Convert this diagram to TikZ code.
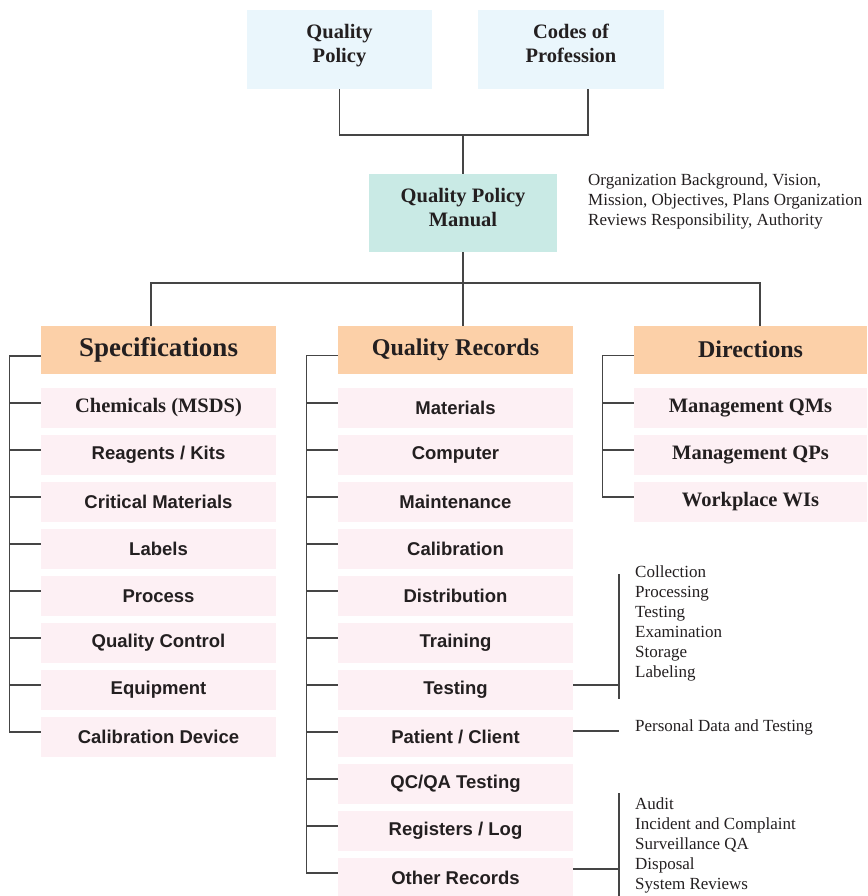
\documentclass[tikz,border=0pt]{standalone}
\usepackage{fontspec}
\setmainfont{Liberation Serif}
\newfontfamily\arialb{Liberation Sans}
\definecolor{topc}{HTML}{EAF6FC}
\definecolor{qpmc}{HTML}{C9EAE5}
\definecolor{hdrc}{HTML}{FCD0A8}
\definecolor{itemc}{HTML}{FDF0F4}
\definecolor{txtc}{HTML}{231F20}
\definecolor{lnc}{HTML}{454545}
\newcommand{\lift}{\rule[-12pt]{0pt}{0pt}}
\tikzset{
 ln/.style={draw=lnc, line width=1.2pt},
 box/.style={inner sep=0pt, align=center, text=txtc},
 topbox/.style={box, fill=topc, minimum width=185pt, minimum height=79pt, font=\fontsize{20.5}{24}\selectfont\bfseries},
 qpmbox/.style={box, fill=qpmc, minimum width=188pt, minimum height=78pt, font=\fontsize{20.5}{24}\selectfont\bfseries},
 hdr/.style={box, fill=hdrc, minimum width=235pt, minimum height=48pt, font=\fontsize{24}{28}\selectfont\bfseries},
 itm/.style={box, fill=itemc, minimum width=235pt, minimum height=40pt},
 sitm/.style={itm, font=\arialb\fontsize{18.5}{22}\selectfont\bfseries},
 ritm/.style={itm, font=\fontsize{20.5}{24}\selectfont\bfseries},
 note/.style={inner sep=0pt, align=left, text=txtc, font=\fontsize{17}{20}\selectfont},
}
\begin{document}
\begin{tikzpicture}[x=1pt,y=-1pt]
\useasboundingbox (0,0) rectangle (867,896);
% top
\node[topbox] (qp) at (339.5,49.5) {Quality\\Policy\lift};
\node[topbox, minimum width=186pt] (cp) at (571,49.5) {Codes of\\Profession\lift};
\node[qpmbox] (qpm) at (463,213) {Quality Policy\\Manual\lift};
\coordinate (j1) at (463,135);
\coordinate (cpb) at (588,89);
\draw[ln] (qp.south) |- (j1) -| (cpb);
\draw[ln] (j1) -- (qpm.north);
\node[note, anchor=north west] (qpmnote) at (588,173.5) {Organization Background, Vision,\\Mission, Objectives, Plans Organization\\Reviews Responsibility, Authority};
% headers
\node[hdr, font=\fontsize{27}{30}\selectfont\bfseries] (spec) at (158.5,350) {Specifications};
\node[hdr] (qr) at (455.5,349.5) {Quality Records};
\node[hdr, minimum width=233pt] (dir) at (750.5,349.5) {Directions};
\coordinate (j2) at (463,283);
\coordinate (spt) at (151,326);
\coordinate (qrt) at (463,326);
\coordinate (dirt) at (760,326);
\draw[ln] (qpm.south) -- (j2);
\draw[ln] (spt) |- (j2) -| (dirt);
\draw[ln] (j2) -- (qrt);
% column 1
\node[ritm] (c1a) at (158.5,408) {Chemicals (MSDS)};
\node[sitm] (c1b) at (158.5,455) {Reagents / Kits};
\node[sitm] (c1c) at (158.5,502) {Critical Materials};
\node[sitm] (c1d) at (158.5,549) {Labels};
\node[sitm] (c1e) at (158.5,596) {Process};
\node[sitm] (c1f) at (158.5,643) {Quality Control};
\node[sitm] (c1g) at (158.5,690) {Equipment};
\node[sitm] (c1h) at (158.5,737) {Calibration Device};
\draw[ln] ([yshift=-6pt]spec.west) -| ([xshift=-31pt,yshift=5pt]c1h.west) -- ([yshift=5pt]c1h.west);
\foreach \n in {c1a,c1b,c1c,c1d,c1e,c1f,c1g}
  \draw[ln] ([yshift=5pt]\n.west) -- ++(-31,0);
% column 2
\node[sitm] (c2a) at (455.5,408) {Materials};
\node[sitm] (c2b) at (455.5,455) {Computer};
\node[sitm] (c2c) at (455.5,502) {Maintenance};
\node[sitm] (c2d) at (455.5,549) {Calibration};
\node[sitm] (c2e) at (455.5,596) {Distribution};
\node[sitm] (c2f) at (455.5,643) {Training};
\node[sitm] (c2g) at (455.5,690) {Testing};
\node[sitm] (c2h) at (455.5,737) {Patient / Client};
\node[sitm] (c2i) at (455.5,784) {QC/QA Testing};
\node[sitm] (c2j) at (455.5,831) {Registers / Log};
\node[sitm] (c2k) at (455.5,878) {Other Records};
\draw[ln] ([yshift=-6pt]qr.west) -| ([xshift=-31pt,yshift=5pt]c2k.west) -- ([yshift=5pt]c2k.west);
\foreach \n in {c2a,c2b,c2c,c2d,c2e,c2f,c2g,c2h,c2i,c2j}
  \draw[ln] ([yshift=5pt]\n.west) -- ++(-31,0);
% column 3
\node[ritm, minimum width=233pt] (c3a) at (750.5,408) {Management QMs};
\node[ritm, minimum width=233pt] (c3b) at (750.5,455) {Management QPs};
\node[ritm, minimum width=233pt] (c3c) at (750.5,502) {Workplace WIs};
\draw[ln] ([yshift=-6pt]dir.west) -| ([xshift=-31pt,yshift=5pt]c3c.west) -- ([yshift=5pt]c3c.west);
\foreach \n in {c3a,c3b}
  \draw[ln] ([yshift=5pt]\n.west) -- ++(-31,0);
% annotations
\coordinate (b1t) at (619,574);
\coordinate (b1b) at (619,699);
\draw[ln] (b1t) -- (b1b);
\draw[ln] ([yshift=5pt]c2g.east) -- ++(46,0);
\node[note, anchor=north west] (testnote) at (635,565.5) {Collection\\Processing\\Testing\\Examination\\Storage\\Labeling};
\draw[ln] ([yshift=6pt]c2h.east) -- ++(46,0);
\node[note, anchor=base west] (patnote) at (635,731) {Personal Data and Testing};
\coordinate (b2t) at (619,793);
\coordinate (b2b) at (619,896);
\draw[ln] (b2t) -- (b2b);
\draw[ln] ([yshift=9pt]c2k.east) -- ++(46,0);
\node[note, anchor=north west] (othnote) at (635,797.5) {Audit\\Incident and Complaint\\Surveillance QA\\Disposal\\System Reviews};
\end{tikzpicture}
\end{document}
